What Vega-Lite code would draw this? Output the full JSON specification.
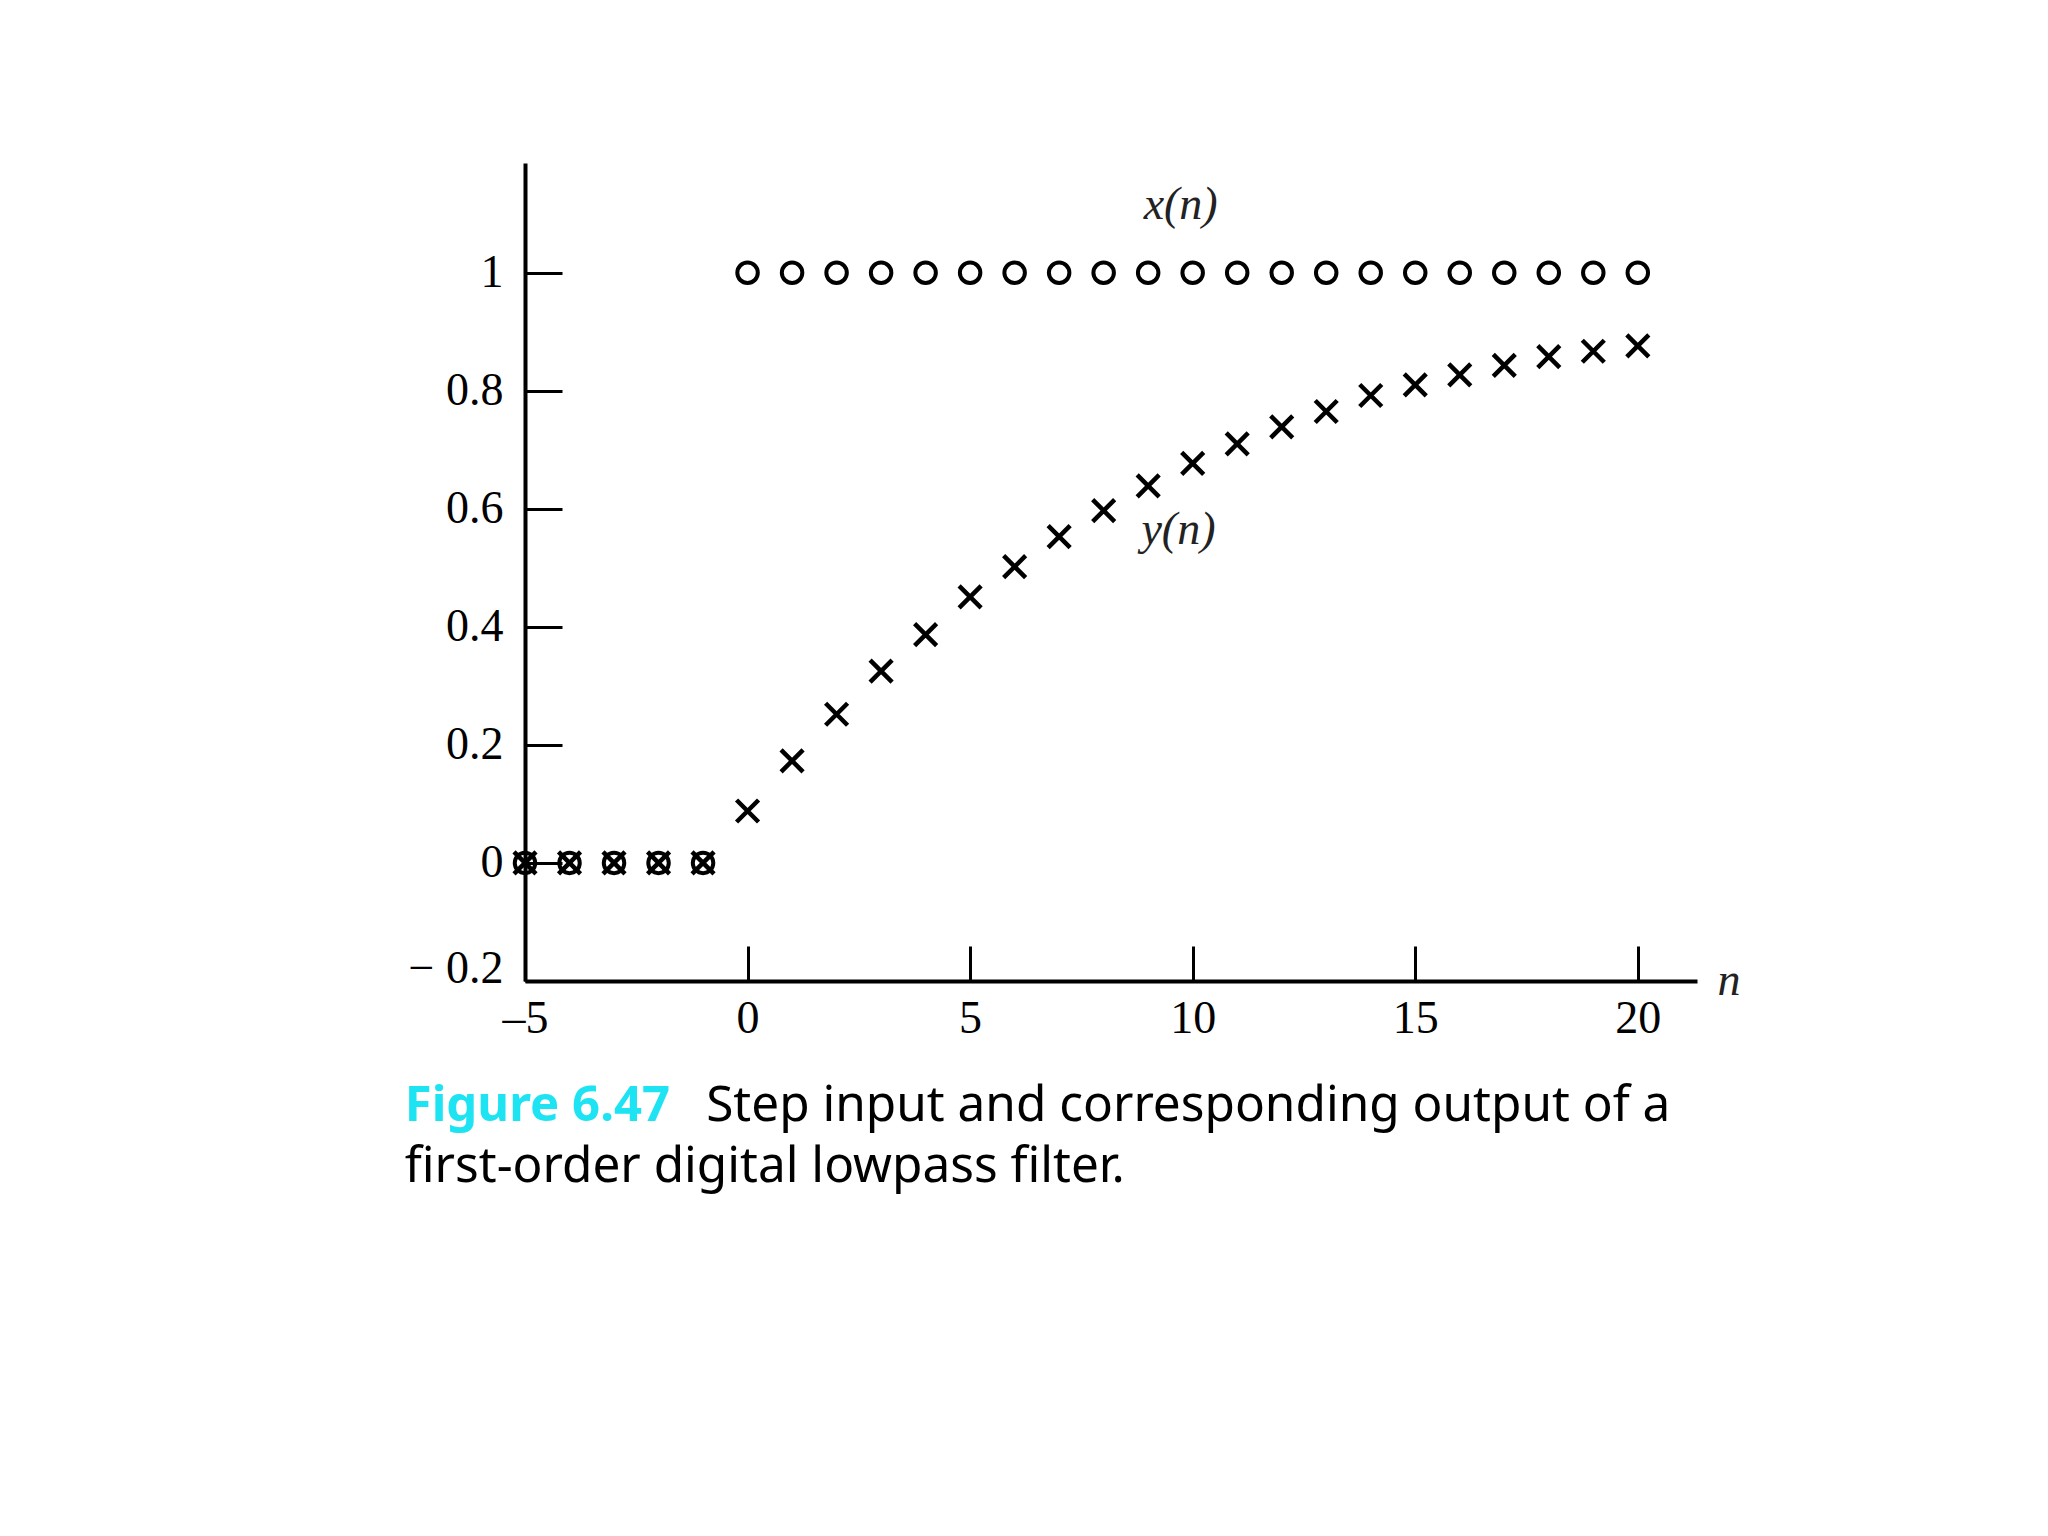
{
  "$schema": "https://vega.github.io/schema/vega-lite/v6.json",
  "width": 1172,
  "height": 818,
  "autosize": {"type": "none"},
  "padding": {"left": 525, "top": 163, "right": 351, "bottom": 555},
  "background": "white",
  "config": {"view": {"stroke": null}},
  "datasets": {
    "x_n": [
      {"n": -5, "value": 0}, {"n": -4, "value": 0}, {"n": -3, "value": 0}, {"n": -2, "value": 0}, {"n": -1, "value": 0},
      {"n": 0, "value": 1}, {"n": 1, "value": 1}, {"n": 2, "value": 1}, {"n": 3, "value": 1}, {"n": 4, "value": 1},
      {"n": 5, "value": 1}, {"n": 6, "value": 1}, {"n": 7, "value": 1}, {"n": 8, "value": 1}, {"n": 9, "value": 1},
      {"n": 10, "value": 1}, {"n": 11, "value": 1}, {"n": 12, "value": 1}, {"n": 13, "value": 1}, {"n": 14, "value": 1},
      {"n": 15, "value": 1}, {"n": 16, "value": 1}, {"n": 17, "value": 1}, {"n": 18, "value": 1}, {"n": 19, "value": 1},
      {"n": 20, "value": 1}
    ],
    "y_n": [
      {"n": -5, "value": 0}, {"n": -4, "value": 0}, {"n": -3, "value": 0}, {"n": -2, "value": 0}, {"n": -1, "value": 0},
      {"n": 0, "value": 0.088}, {"n": 1, "value": 0.173}, {"n": 2, "value": 0.252}, {"n": 3, "value": 0.325},
      {"n": 4, "value": 0.387}, {"n": 5, "value": 0.451}, {"n": 6, "value": 0.502}, {"n": 7, "value": 0.553},
      {"n": 8, "value": 0.597}, {"n": 9, "value": 0.639}, {"n": 10, "value": 0.677}, {"n": 11, "value": 0.71},
      {"n": 12, "value": 0.739}, {"n": 13, "value": 0.765}, {"n": 14, "value": 0.792}, {"n": 15, "value": 0.81},
      {"n": 16, "value": 0.827}, {"n": 17, "value": 0.843}, {"n": 18, "value": 0.858}, {"n": 19, "value": 0.867},
      {"n": 20, "value": 0.876}
    ],
    "series_labels": [
      {"n": 9.73, "value": 1.115, "text": "x(n)"},
      {"n": 9.68, "value": 0.565, "text": "y(n)"},
      {"n": 22.05, "value": -0.2, "text": "n"}
    ]
  },
  "layer": [
    {
      "data": {"name": "x_n"},
      "mark": {"type": "point", "shape": "circle", "filled": false, "size": 420, "strokeWidth": 4, "color": "black", "opacity": 1},
      "encoding": {
        "x": {
          "field": "n", "type": "quantitative",
          "scale": {"domain": [-5, 21.33], "nice": false, "zero": false},
          "axis": {
            "values": [-5, 0, 5, 10, 15, 20],
            "labelExpr": "datum.value < 0 ? '–5' : datum.label",
            "title": null, "grid": false,
            "domainColor": "black", "domainWidth": 4,
            "tickColor": "black", "tickWidth": 3, "tickSize": -35,
            "labelPadding": 50,
            "labelFont": "Liberation Serif", "labelFontSize": 46, "labelColor": "black",
            "labelFlush": false, "labelOverlap": false
          }
        },
        "y": {
          "field": "value", "type": "quantitative",
          "scale": {"domain": [-0.2, 1.186], "nice": false, "zero": false},
          "axis": {
            "values": [-0.2, 0, 0.2, 0.4, 0.6, 0.8, 1],
            "labelExpr": "datum.value < -0.1 ? '− 0.2' : (abs(datum.value) < 0.01 ? '0' : (datum.value > 0.99 ? '1' : format(datum.value, '.1f')))",
            "labelOffset": {"condition": {"test": "datum.value < -0.1", "value": -13}, "value": 0},
            "title": null, "grid": false,
            "domainColor": "black", "domainWidth": 4,
            "tickColor": "black", "tickWidth": 3, "tickSize": -37,
            "labelPadding": 59,
            "labelFont": "Liberation Serif", "labelFontSize": 46, "labelColor": "black",
            "labelFlush": false, "labelOverlap": false
          }
        }
      }
    },
    {
      "data": {"name": "y_n"},
      "mark": {"type": "point", "shape": "M-1,-1L1,1M-1,1L1,-1", "filled": false, "size": 484, "strokeWidth": 4.5, "color": "black", "opacity": 1},
      "encoding": {
        "x": {"field": "n", "type": "quantitative"},
        "y": {"field": "value", "type": "quantitative"}
      }
    },
    {
      "data": {"name": "series_labels"},
      "mark": {"type": "text", "font": "Liberation Serif", "fontStyle": "italic", "fontSize": 46, "align": "center", "baseline": "middle", "color": "#222222"},
      "encoding": {
        "x": {"field": "n", "type": "quantitative"},
        "y": {"field": "value", "type": "quantitative"},
        "text": {"field": "text"}
      }
    },
    {
      "data": {"values": [{"n": -7.7, "value": -0.4366, "text": "Figure 6.47"}]},
      "mark": {"type": "text", "font": "Noto Sans", "fontWeight": 700, "fontSize": 49, "align": "left", "baseline": "alphabetic", "color": "#1EE3F3"},
      "encoding": {
        "x": {"field": "n", "type": "quantitative"},
        "y": {"field": "value", "type": "quantitative"},
        "text": {"field": "text"}
      }
    },
    {
      "data": {"values": [
        {"n": -0.93, "value": -0.4366, "text": "Step input and corresponding output of a"},
        {"n": -7.7, "value": -0.54, "text": "first-order digital lowpass filter."}
      ]},
      "mark": {"type": "text", "font": "Noto Sans", "fontSize": 49.5, "align": "left", "baseline": "alphabetic", "color": "black"},
      "encoding": {
        "x": {"field": "n", "type": "quantitative"},
        "y": {"field": "value", "type": "quantitative"},
        "text": {"field": "text"}
      }
    }
  ]
}
